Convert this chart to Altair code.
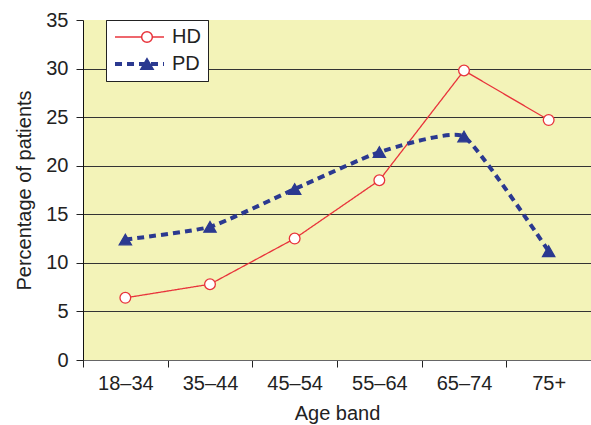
import altair as alt
import pandas as pd

age_bands = ["18–34", "35–44", "45–54", "55–64", "65–74", "75+"]
hd_values = [6.4, 7.8, 12.5, 18.5, 29.8, 24.7]
pd_values = [12.4, 13.7, 17.6, 21.4, 23.0, 11.2]
series_names = ["HD", "PD"]

df = pd.DataFrame(
    {
        "age": age_bands * 2,
        "series": ["HD"] * len(age_bands) + ["PD"] * len(age_bands),
        "value": hd_values + pd_values,
    }
)

RED = "#e8333b"
BLUE = "#2b3990"
FONT = "Liberation Sans"
FS = 20

x = alt.X(
    "age:N",
    sort=age_bands,
    scale=alt.Scale(domain=age_bands),
    axis=alt.Axis(
        title="Age band",
        labelAngle=0,
        tickBand="extent",
        tickSize=7,
        tickColor="#222",
        domainColor="#666",
        labelFontSize=FS,
        labelColor="#222",
        labelFont=FONT,
        labelPadding=6,
        titleFontSize=FS,
        titleFontWeight="normal",
        titleColor="#222",
        titleFont=FONT,
        titlePadding=10,
        grid=False,
    ),
)
y = alt.Y(
    "value:Q",
    scale=alt.Scale(domain=[0, 35], nice=False),
    axis=alt.Axis(
        title="Percentage of patients",
        values=[0, 5, 10, 15, 20, 25, 30, 35],
        tickSize=7,
        tickColor="#222",
        domainColor="#111",
        labelFontSize=FS,
        labelColor="#222",
        labelFont=FONT,
        labelPadding=8,
        titleFontSize=FS,
        titleFontWeight="normal",
        titleColor="#222",
        titleFont=FONT,
        titlePadding=11,
        grid=True,
        gridColor="#333",
        gridWidth=1,
        gridOpacity={"condition": {"test": "datum.value === 35", "value": 0}, "value": 1},
    ),
)

legend_line = alt.Legend(
    title=None,
    orient="none",
    legendX=23,
    legendY=0,
    symbolType="stroke",
    symbolSize=2400,
    clipHeight=20,
    labelFontSize=FS,
    labelFont=FONT,
    labelColor="#222",
    labelOffset=6,
    rowPadding=7,
    padding=7,
    fillColor="white",
    strokeColor="#222",
    zindex=1,
)

color_enc = alt.Color(
    "series:N", scale=alt.Scale(domain=series_names, range=[RED, BLUE]), legend=legend_line
)
dash_enc = alt.StrokeDash(
    "series:N", scale=alt.Scale(domain=series_names, range=[[1, 0], [7, 5]]), legend=legend_line
)
width_enc = alt.StrokeWidth(
    "series:N", scale=alt.Scale(domain=series_names, range=[1.3, 4]), legend=legend_line
)

hd_line = (
    alt.Chart(df)
    .transform_filter("datum.series === 'HD'")
    .mark_line(interpolate="linear")
    .encode(x=x, y=y, color=color_enc, strokeDash=dash_enc, strokeWidth=width_enc)
)
pd_line = (
    alt.Chart(df)
    .transform_filter("datum.series === 'PD'")
    .mark_line(interpolate="cardinal", tension=0.55)
    .encode(x=x, y=y, color=color_enc, strokeDash=dash_enc, strokeWidth=width_enc)
)

legend_pts = alt.Legend(
    title=None,
    orient="none",
    legendX=47,
    legendY=0,
    symbolSize=130,
    clipHeight=20,
    labelFontSize=FS,
    labelFont=FONT,
    labelExpr="''",
    labelOffset=6,
    rowPadding=7,
    padding=7,
    zindex=2,
)

points = alt.Chart(df).mark_point(opacity=1, strokeWidth=1.3).encode(
    x=x,
    y=y,
    shape=alt.Shape(
        "series:N", scale=alt.Scale(domain=series_names, range=["circle", "triangle-up"]), legend=legend_pts
    ),
    fill=alt.Fill(
        "series:N", scale=alt.Scale(domain=series_names, range=["white", BLUE]), legend=legend_pts
    ),
    stroke=alt.Stroke(
        "series:N", scale=alt.Scale(domain=series_names, range=[RED, BLUE]), legend=legend_pts
    ),
    size=alt.Size(
        "series:N", scale=alt.Scale(domain=series_names, range=[115, 150]), legend=legend_pts
    ),
)

chart = (
    alt.layer(hd_line, pd_line, points)
    .resolve_legend(color="independent", shape="independent", fill="independent",
                    stroke="independent", strokeDash="independent", size="independent",
                    strokeWidth="independent")
    .properties(
        width=508,
        height=340,
        autosize=alt.AutoSizeParams(type="none"),
        padding={"left": 83, "top": 20, "right": 0, "bottom": 65},
        background="white",
    )
    .configure_view(fill="#f3f3b8", stroke=None)
)

chart.save("out.html", embed_options={"renderer": "svg", "actions": False})
